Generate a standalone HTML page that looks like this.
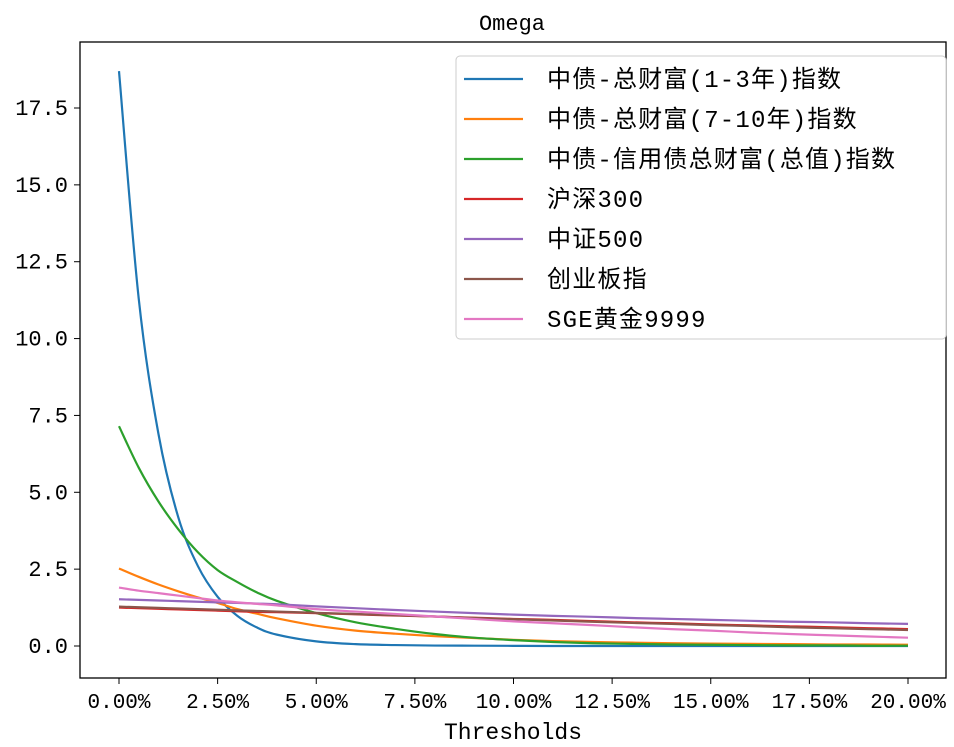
<!DOCTYPE html>
<html><head><meta charset="utf-8"><style>
body{margin:0;background:#fff;}
svg{display:block;font-family:"Liberation Mono","WenQuanYi Zen Hei","Noto Sans CJK SC",monospace;}
</style></head><body>
<svg id="chart" width="954" height="747" viewBox="0 0 954 747">
<rect x="0" y="0" width="954" height="747" fill="#fff"/>
<text x="512" y="30" text-anchor="middle" font-size="22" fill="#000">Omega</text>
<g id="plot"></g>
<rect x="80" y="42" width="866" height="636" fill="none" stroke="#000" stroke-width="1.3"/>
<g id="xticks"></g>
<g id="yticks"></g>
<text x="513" y="739" text-anchor="middle" font-size="23" fill="#000">Thresholds</text>
<g id="legend"></g>
</svg>
<script>
const thresholds=[0,0.5,1,1.5,2,2.5,3,3.5,4,5,6,7,8,9,10,11,12,13,14,15,16,17,18,19,20];
const seriesNames=["中债-总财富(1-3年)指数","中债-总财富(7-10年)指数","中债-信用债总财富(总值)指数","沪深300","中证500","创业板指","SGE黄金9999"];
const colors=["#1f77b4","#ff7f0e","#2ca02c","#d62728","#9467bd","#8c564b","#e377c2"];
const s1=[18.7,11.3,6.9,4.2,2.6,1.6,0.98,0.6,0.37,0.15,0.06,0.03,0.015,0.01,0.005,0,0,0,0,0,0,0,0,0,0];
const s2=[2.52,2.25,2.0,1.78,1.58,1.4,1.2,1.05,0.9,0.66,0.5,0.4,0.32,0.26,0.2,0.16,0.13,0.11,0.09,0.08,0.07,0.06,0.05,0.05,0.04];
const s3=[7.15,5.8,4.7,3.8,3.05,2.47,2.08,1.74,1.47,1.07,0.77,0.56,0.39,0.27,0.19,0.13,0.09,0.07,0.05,0.04,0.03,0.02,0.02,0.01,0.01];
const s4=[1.25,1.23,1.21,1.19,1.17,1.15,1.13,1.11,1.10,1.07,1.03,0.99,0.96,0.92,0.88,0.85,0.81,0.77,0.74,0.70,0.67,0.64,0.61,0.58,0.55];
const s5=[1.52,1.5,1.48,1.46,1.44,1.42,1.4,1.38,1.36,1.29,1.23,1.17,1.12,1.07,1.02,0.98,0.95,0.91,0.88,0.85,0.82,0.79,0.77,0.74,0.72];
const s6=[1.28,1.26,1.24,1.22,1.2,1.18,1.16,1.14,1.12,1.08,1.04,1.0,0.96,0.91,0.87,0.83,0.79,0.75,0.72,0.68,0.65,0.61,0.58,0.55,0.52];
const s7=[1.9,1.8,1.72,1.64,1.56,1.48,1.42,1.37,1.32,1.2,1.12,1.04,0.96,0.88,0.8,0.74,0.68,0.61,0.55,0.5,0.44,0.39,0.35,0.31,0.27];
const allSeries=[s1,s2,s3,s4,s5,s6,s7];
const xTickVals=[0,2.5,5,7.5,10,12.5,15,17.5,20];
const yTickVals=[0,2.5,5,7.5,10,12.5,15,17.5];
const NS="http://www.w3.org/2000/svg";
function xs(v){return 119+v*(908-119)/20;}
function ys(v){return 646-v*(646-108)/17.5;}
const plot=document.getElementById('plot');
allSeries.forEach((s,k)=>{
  const pts=thresholds.map((t,i)=>[xs(t),ys(s[i])]);
  let d="M"+pts[0][0]+","+pts[0][1];
  for(let i=0;i<pts.length-1;i++){
    const p0=pts[Math.max(0,i-1)],p1=pts[i],p2=pts[i+1],p3=pts[Math.min(pts.length-1,i+2)];
    const c1x=p1[0]+(p2[0]-p0[0])/6,c1y=p1[1]+(p2[1]-p0[1])/6;
    const c2x=p2[0]-(p3[0]-p1[0])/6,c2y=p2[1]-(p3[1]-p1[1])/6;
    d+=" C"+c1x+","+c1y+" "+c2x+","+c2y+" "+p2[0]+","+p2[1];
  }
  const p=document.createElementNS(NS,'path');
  p.setAttribute('d',d);p.setAttribute('fill','none');p.setAttribute('stroke',colors[k]);p.setAttribute('stroke-width','2.2');
  
  
  plot.appendChild(p);
});
const xg=document.getElementById('xticks');
xTickVals.forEach(v=>{
  const l=document.createElementNS(NS,'line');
  l.setAttribute('x1',xs(v));l.setAttribute('x2',xs(v));l.setAttribute('y1',678);l.setAttribute('y2',684);l.setAttribute('stroke','#000');
  
  
  xg.appendChild(l);
  const t=document.createElementNS(NS,'text');
  t.setAttribute('x',xs(v));t.setAttribute('y',708);t.setAttribute('text-anchor','middle');t.setAttribute('font-size','21');
  t.textContent=v.toFixed(2)+"%";
  
  
  xg.appendChild(t);
});
const yg=document.getElementById('yticks');
yTickVals.forEach(v=>{
  const l=document.createElementNS(NS,'line');
  l.setAttribute('x1',74);l.setAttribute('x2',80);l.setAttribute('y1',ys(v));l.setAttribute('y2',ys(v));l.setAttribute('stroke','#000');
  
  
  yg.appendChild(l);
  const t=document.createElementNS(NS,'text');
  t.setAttribute('x',68);t.setAttribute('y',ys(v)+7);t.setAttribute('text-anchor','end');t.setAttribute('font-size','22');
  t.textContent=v.toFixed(1);
  
  
  yg.appendChild(t);
});
const lg=document.getElementById('legend');
const box=document.createElementNS(NS,'rect');
box.setAttribute('x',456);box.setAttribute('y',56);box.setAttribute('width',490);box.setAttribute('height',283);box.setAttribute('rx',4);
box.setAttribute('fill','#fff');box.setAttribute('stroke','#ccc');


lg.appendChild(box);
seriesNames.forEach((n,k)=>{
  const y=79+k*40;
  const l=document.createElementNS(NS,'line');
  l.setAttribute('x1',464);l.setAttribute('x2',523);l.setAttribute('y1',y);l.setAttribute('y2',y);l.setAttribute('stroke',colors[k]);l.setAttribute('stroke-width','2.2');
  
  
  lg.appendChild(l);
  const t=document.createElementNS(NS,'text');
  t.setAttribute('x',547);t.setAttribute('y',y+8);t.setAttribute('font-size','24');t.setAttribute('letter-spacing','1.2');
  t.textContent=n;
  
  
  lg.appendChild(t);
});
</script>
</body></html>
